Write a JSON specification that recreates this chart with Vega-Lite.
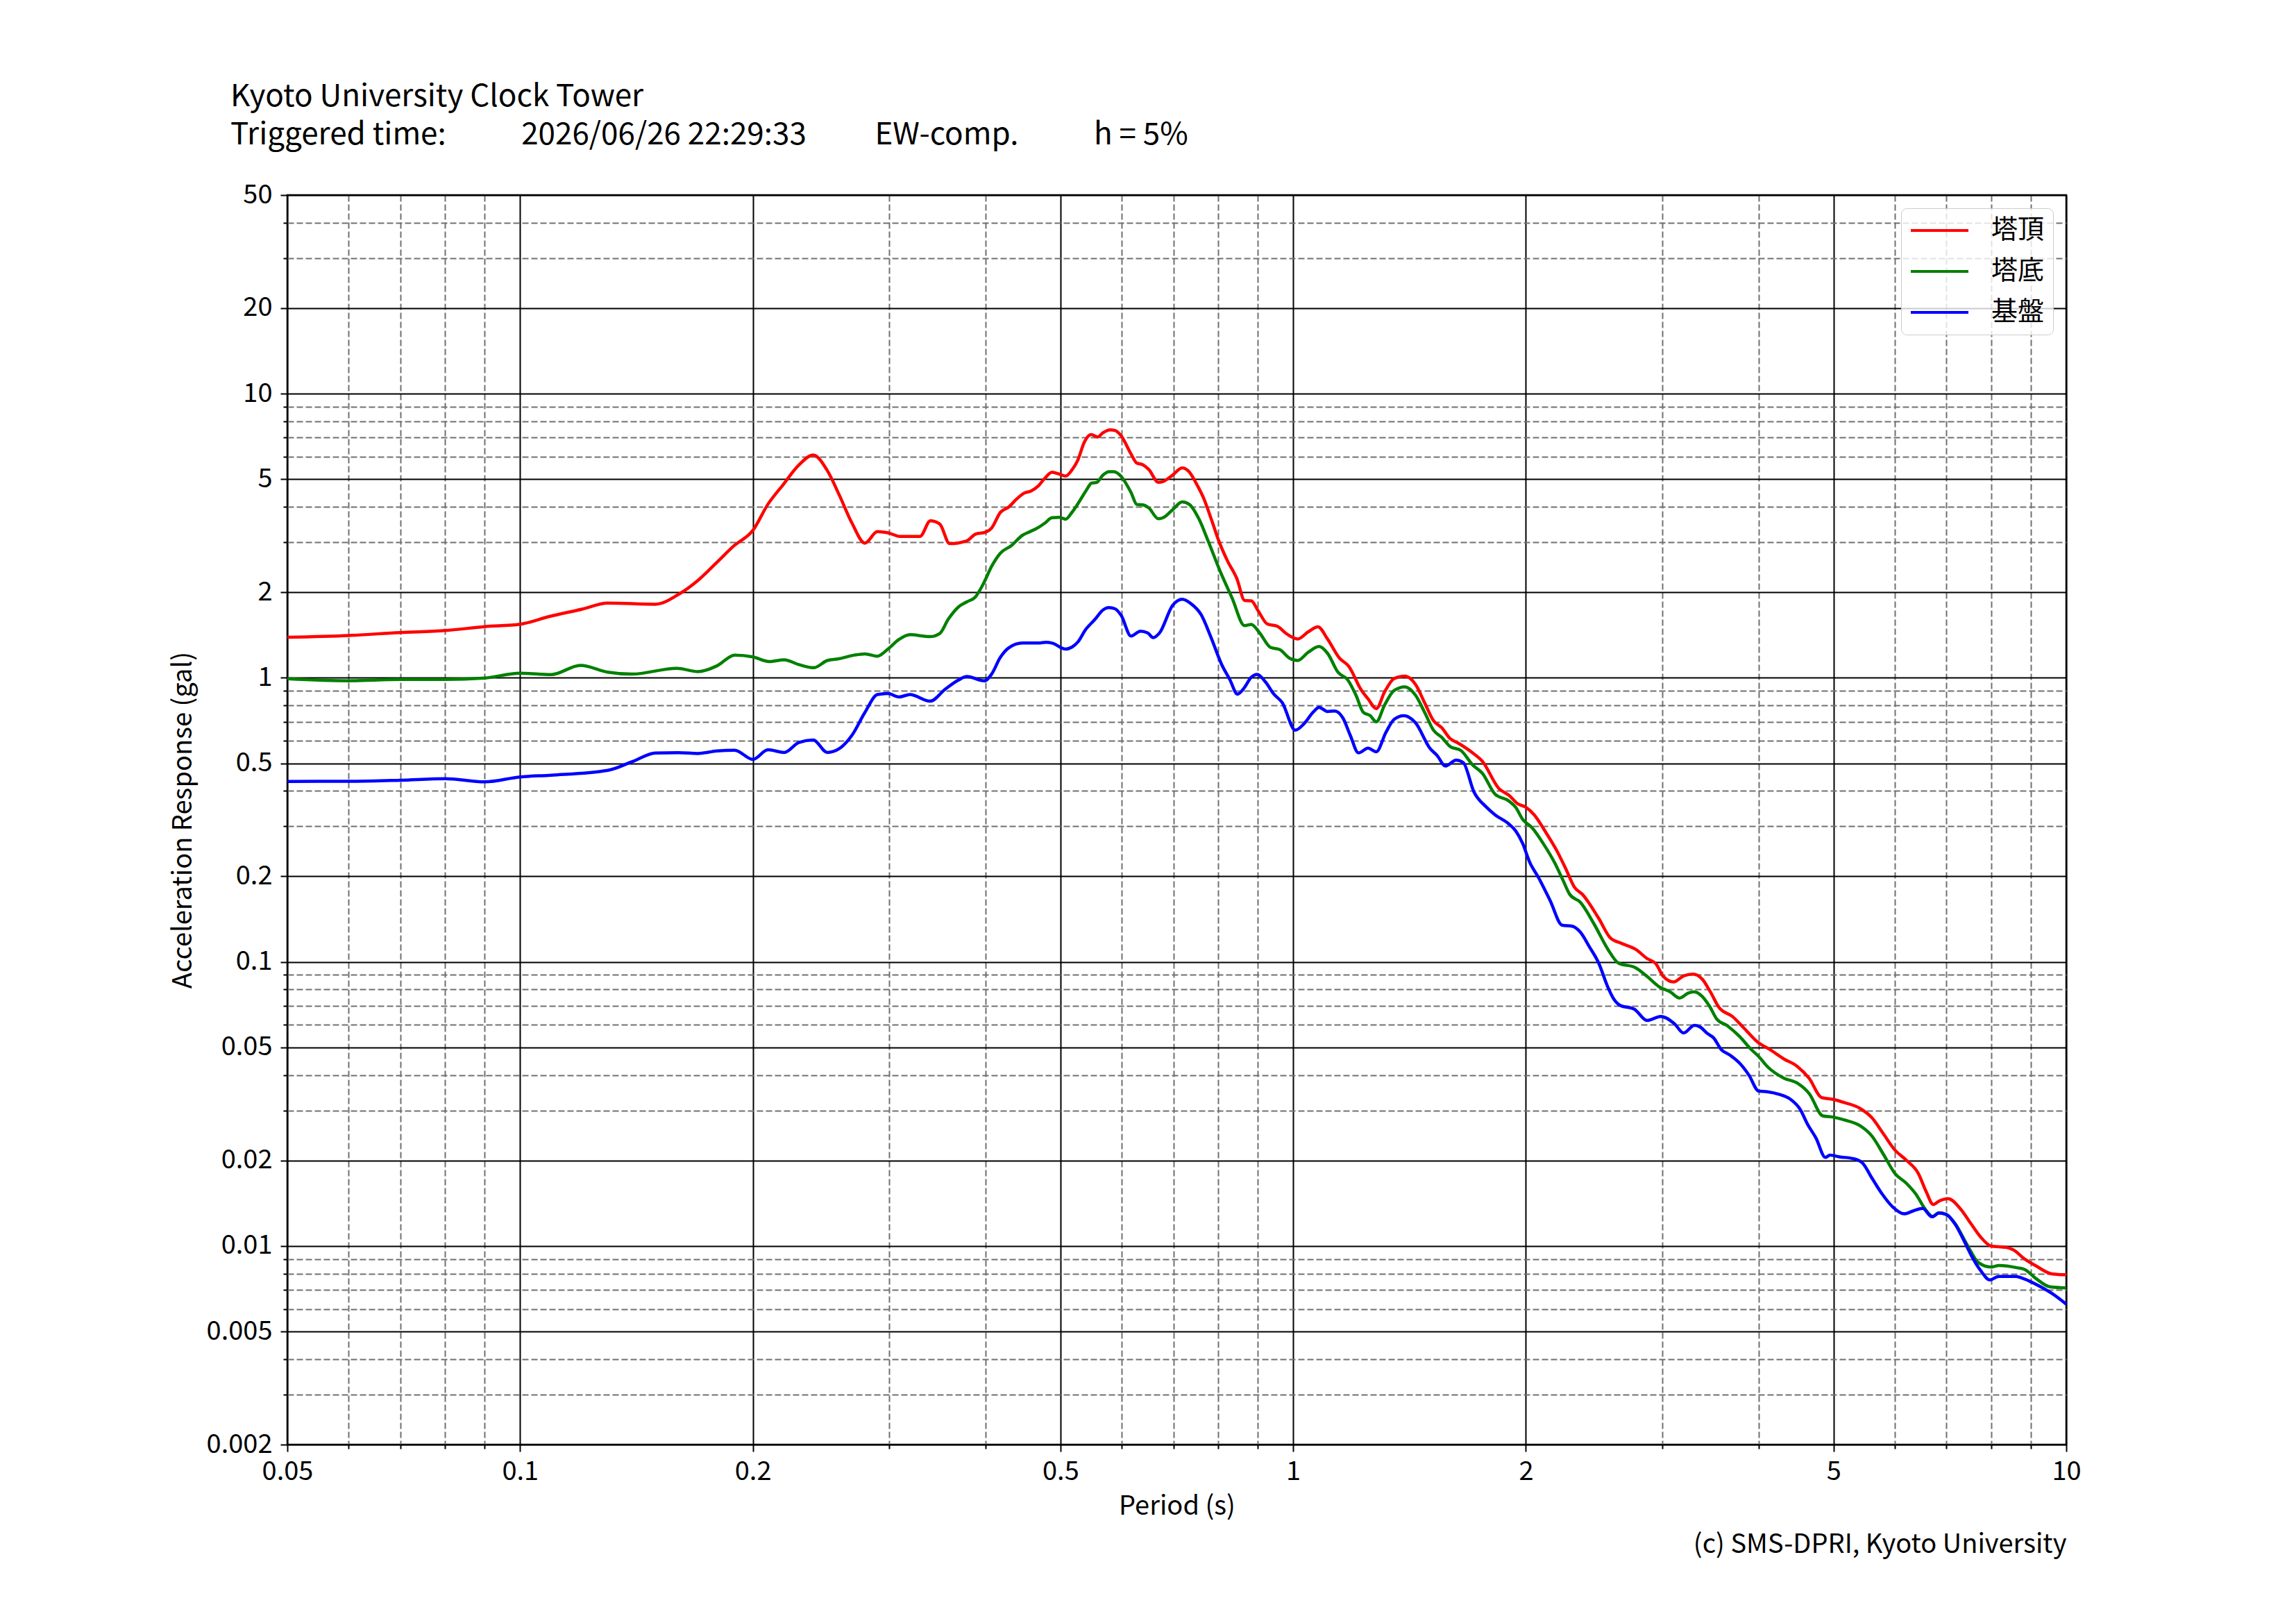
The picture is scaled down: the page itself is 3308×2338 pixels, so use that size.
{
  "$schema": "https://vega.github.io/schema/vega-lite/v6.json",
  "width": 2563,
  "height": 1800,
  "autosize": {"type": "none"},
  "padding": {"left": 414, "top": 281, "right": 331, "bottom": 257},
  "background": "white",
  "title": {
    "text": [
      "Kyoto University Clock Tower",
      "Triggered time:\u00a0\u00a0\u00a0\u00a0\u00a0\u00a0\u00a0\u00a0\u00a0\u00a0\u00a02026/06/26 22:29:33\u00a0\u00a0\u00a0\u00a0\u00a0\u00a0\u00a0\u00a0\u00a0\u00a0EW-comp.\u00a0\u00a0\u00a0\u00a0\u00a0\u00a0\u00a0\u00a0\u00a0\u00a0\u00a0h = 5%"
    ],
    "anchor": "start",
    "frame": "group",
    "dx": -82,
    "offset": 10,
    "baseline": "alphabetic",
    "lineHeight": 55,
    "fontSize": 44,
    "fontWeight": "normal",
    "color": "black"
  },
  "data": {
    "values": [
      {"T": 0.05, "A": 1.389, "s": "塔頂"},
      {"T": 0.06, "A": 1.409, "s": "塔頂"},
      {"T": 0.07, "A": 1.443, "s": "塔頂"},
      {"T": 0.08, "A": 1.466, "s": "塔頂"},
      {"T": 0.09, "A": 1.513, "s": "塔頂"},
      {"T": 0.1, "A": 1.543, "s": "塔頂"},
      {"T": 0.1092, "A": 1.644, "s": "塔頂"},
      {"T": 0.1203, "A": 1.744, "s": "塔頂"},
      {"T": 0.1298, "A": 1.833, "s": "塔頂"},
      {"T": 0.1497, "A": 1.815, "s": "塔頂"},
      {"T": 0.1603, "A": 1.965, "s": "塔頂"},
      {"T": 0.1699, "A": 2.203, "s": "塔頂"},
      {"T": 0.1798, "A": 2.551, "s": "塔頂"},
      {"T": 0.1892, "A": 2.919, "s": "塔頂"},
      {"T": 0.2, "A": 3.3, "s": "塔頂"},
      {"T": 0.2093, "A": 4.087, "s": "塔頂"},
      {"T": 0.2188, "A": 4.773, "s": "塔頂"},
      {"T": 0.2294, "A": 5.607, "s": "塔頂"},
      {"T": 0.2394, "A": 6.083, "s": "塔頂"},
      {"T": 0.2497, "A": 5.362, "s": "塔頂"},
      {"T": 0.259, "A": 4.373, "s": "塔頂"},
      {"T": 0.2688, "A": 3.498, "s": "塔頂"},
      {"T": 0.2793, "A": 2.978, "s": "塔頂"},
      {"T": 0.2899, "A": 3.268, "s": "塔頂"},
      {"T": 0.2991, "A": 3.237, "s": "塔頂"},
      {"T": 0.3103, "A": 3.145, "s": "塔頂"},
      {"T": 0.3291, "A": 3.145, "s": "塔頂"},
      {"T": 0.3394, "A": 3.567, "s": "塔頂"},
      {"T": 0.349, "A": 3.478, "s": "塔頂"},
      {"T": 0.3594, "A": 2.966, "s": "塔頂"},
      {"T": 0.3783, "A": 3.035, "s": "塔頂"},
      {"T": 0.3883, "A": 3.205, "s": "塔頂"},
      {"T": 0.4, "A": 3.255, "s": "塔頂"},
      {"T": 0.4073, "A": 3.365, "s": "塔頂"},
      {"T": 0.418, "A": 3.817, "s": "塔頂"},
      {"T": 0.4288, "A": 3.993, "s": "塔頂"},
      {"T": 0.4385, "A": 4.249, "s": "塔頂"},
      {"T": 0.4483, "A": 4.46, "s": "塔頂"},
      {"T": 0.4582, "A": 4.547, "s": "塔頂"},
      {"T": 0.4685, "A": 4.746, "s": "塔頂"},
      {"T": 0.477, "A": 5.029, "s": "塔頂"},
      {"T": 0.4877, "A": 5.29, "s": "塔頂"},
      {"T": 0.4986, "A": 5.209, "s": "塔頂"},
      {"T": 0.5078, "A": 5.128, "s": "塔頂"},
      {"T": 0.5173, "A": 5.383, "s": "塔頂"},
      {"T": 0.5268, "A": 5.852, "s": "塔頂"},
      {"T": 0.5366, "A": 6.73, "s": "塔頂"},
      {"T": 0.5478, "A": 7.175, "s": "塔頂"},
      {"T": 0.5588, "A": 7.037, "s": "塔頂"},
      {"T": 0.5671, "A": 7.273, "s": "塔頂"},
      {"T": 0.5798, "A": 7.459, "s": "塔頂"},
      {"T": 0.5883, "A": 7.416, "s": "塔頂"},
      {"T": 0.5992, "A": 7.105, "s": "塔頂"},
      {"T": 0.6169, "A": 6.135, "s": "塔頂"},
      {"T": 0.6277, "A": 5.697, "s": "塔頂"},
      {"T": 0.639, "A": 5.62, "s": "塔頂"},
      {"T": 0.6506, "A": 5.406, "s": "塔頂"},
      {"T": 0.6693, "A": 4.877, "s": "塔頂"},
      {"T": 0.679, "A": 4.91, "s": "塔頂"},
      {"T": 0.6985, "A": 5.17, "s": "塔頂"},
      {"T": 0.7186, "A": 5.482, "s": "塔頂"},
      {"T": 0.734, "A": 5.301, "s": "塔頂"},
      {"T": 0.7499, "A": 4.811, "s": "塔頂"},
      {"T": 0.7661, "A": 4.28, "s": "塔頂"},
      {"T": 0.7852, "A": 3.557, "s": "塔頂"},
      {"T": 0.8019, "A": 3.016, "s": "塔頂"},
      {"T": 0.8222, "A": 2.58, "s": "塔頂"},
      {"T": 0.8458, "A": 2.23, "s": "塔頂"},
      {"T": 0.8653, "A": 1.872, "s": "塔頂"},
      {"T": 0.8826, "A": 1.865, "s": "塔頂"},
      {"T": 0.9016, "A": 1.715, "s": "塔頂"},
      {"T": 0.9256, "A": 1.547, "s": "塔頂"},
      {"T": 0.9543, "A": 1.517, "s": "塔頂"},
      {"T": 0.9817, "A": 1.425, "s": "塔頂"},
      {"T": 1.0136, "A": 1.37, "s": "塔頂"},
      {"T": 1.0464, "A": 1.453, "s": "塔頂"},
      {"T": 1.0765, "A": 1.511, "s": "塔頂"},
      {"T": 1.1076, "A": 1.37, "s": "塔頂"},
      {"T": 1.1478, "A": 1.173, "s": "塔頂"},
      {"T": 1.1806, "A": 1.096, "s": "塔頂"},
      {"T": 1.2233, "A": 0.911, "s": "塔頂"},
      {"T": 1.2497, "A": 0.843, "s": "塔頂"},
      {"T": 1.2811, "A": 0.779, "s": "塔頂"},
      {"T": 1.3133, "A": 0.893, "s": "塔頂"},
      {"T": 1.3508, "A": 0.994, "s": "塔頂"},
      {"T": 1.3945, "A": 1.014, "s": "塔頂"},
      {"T": 1.4397, "A": 0.947, "s": "塔頂"},
      {"T": 1.4813, "A": 0.81, "s": "塔頂"},
      {"T": 1.5186, "A": 0.707, "s": "塔頂"},
      {"T": 1.5566, "A": 0.667, "s": "塔頂"},
      {"T": 1.5959, "A": 0.611, "s": "塔頂"},
      {"T": 1.6362, "A": 0.588, "s": "塔頂"},
      {"T": 1.7075, "A": 0.5436, "s": "塔頂"},
      {"T": 1.7571, "A": 0.508, "s": "塔頂"},
      {"T": 1.8449, "A": 0.408, "s": "塔頂"},
      {"T": 1.901, "A": 0.386, "s": "塔頂"},
      {"T": 1.954, "A": 0.3596, "s": "塔頂"},
      {"T": 2.0, "A": 0.3503, "s": "塔頂"},
      {"T": 2.0499, "A": 0.3295, "s": "塔頂"},
      {"T": 2.121, "A": 0.2865, "s": "塔頂"},
      {"T": 2.196, "A": 0.2445, "s": "塔頂"},
      {"T": 2.256, "A": 0.2107, "s": "塔頂"},
      {"T": 2.311, "A": 0.1832, "s": "塔頂"},
      {"T": 2.368, "A": 0.1726, "s": "塔頂"},
      {"T": 2.484, "A": 0.1424, "s": "塔頂"},
      {"T": 2.571, "A": 0.1216, "s": "塔頂"},
      {"T": 2.661, "A": 0.1161, "s": "塔頂"},
      {"T": 2.772, "A": 0.1108, "s": "塔頂"},
      {"T": 2.869, "A": 0.1028, "s": "塔頂"},
      {"T": 2.949, "A": 0.0981, "s": "塔頂"},
      {"T": 3.011, "A": 0.0889, "s": "塔頂"},
      {"T": 3.105, "A": 0.085, "s": "塔頂"},
      {"T": 3.203, "A": 0.0894, "s": "塔頂"},
      {"T": 3.29, "A": 0.0906, "s": "塔頂"},
      {"T": 3.381, "A": 0.087, "s": "塔頂"},
      {"T": 3.464, "A": 0.0785, "s": "塔頂"},
      {"T": 3.554, "A": 0.0692, "s": "塔頂"},
      {"T": 3.701, "A": 0.0642, "s": "塔頂"},
      {"T": 3.831, "A": 0.0584, "s": "塔頂"},
      {"T": 3.992, "A": 0.0521, "s": "塔頂"},
      {"T": 4.134, "A": 0.0492, "s": "塔頂"},
      {"T": 4.31, "A": 0.0456, "s": "塔頂"},
      {"T": 4.491, "A": 0.0428, "s": "塔頂"},
      {"T": 4.65, "A": 0.0389, "s": "塔頂"},
      {"T": 4.826, "A": 0.0333, "s": "塔頂"},
      {"T": 5.0, "A": 0.0328, "s": "塔頂"},
      {"T": 5.157, "A": 0.032, "s": "塔頂"},
      {"T": 5.411, "A": 0.0305, "s": "塔頂"},
      {"T": 5.604, "A": 0.0283, "s": "塔頂"},
      {"T": 5.802, "A": 0.0248, "s": "塔頂"},
      {"T": 6.0, "A": 0.0218, "s": "塔頂"},
      {"T": 6.217, "A": 0.02, "s": "塔頂"},
      {"T": 6.434, "A": 0.01804, "s": "塔頂"},
      {"T": 6.59, "A": 0.01552, "s": "塔頂"},
      {"T": 6.728, "A": 0.014, "s": "塔頂"},
      {"T": 6.845, "A": 0.01439, "s": "塔頂"},
      {"T": 7.035, "A": 0.01467, "s": "塔頂"},
      {"T": 7.282, "A": 0.01361, "s": "塔頂"},
      {"T": 7.537, "A": 0.01193, "s": "塔頂"},
      {"T": 7.748, "A": 0.01076, "s": "塔頂"},
      {"T": 7.993, "A": 0.01, "s": "塔頂"},
      {"T": 8.358, "A": 0.00989, "s": "塔頂"},
      {"T": 8.535, "A": 0.0097, "s": "塔頂"},
      {"T": 8.835, "A": 0.009, "s": "塔頂"},
      {"T": 9.145, "A": 0.0085, "s": "塔頂"},
      {"T": 9.595, "A": 0.00797, "s": "塔頂"},
      {"T": 10, "A": 0.00792, "s": "塔頂"},

      {"T": 0.05, "A": 0.992, "s": "塔底"},
      {"T": 0.06, "A": 0.976, "s": "塔底"},
      {"T": 0.07, "A": 0.986, "s": "塔底"},
      {"T": 0.08, "A": 0.986, "s": "塔底"},
      {"T": 0.09, "A": 0.998, "s": "塔底"},
      {"T": 0.1, "A": 1.038, "s": "塔底"},
      {"T": 0.1097, "A": 1.026, "s": "塔底"},
      {"T": 0.1197, "A": 1.106, "s": "塔底"},
      {"T": 0.1298, "A": 1.047, "s": "塔底"},
      {"T": 0.1395, "A": 1.03, "s": "塔底"},
      {"T": 0.1595, "A": 1.08, "s": "塔底"},
      {"T": 0.1699, "A": 1.051, "s": "塔底"},
      {"T": 0.1798, "A": 1.102, "s": "塔底"},
      {"T": 0.1895, "A": 1.202, "s": "塔底"},
      {"T": 0.2, "A": 1.185, "s": "塔底"},
      {"T": 0.21, "A": 1.141, "s": "塔底"},
      {"T": 0.2196, "A": 1.157, "s": "塔底"},
      {"T": 0.2294, "A": 1.113, "s": "塔底"},
      {"T": 0.2398, "A": 1.085, "s": "塔底"},
      {"T": 0.2497, "A": 1.15, "s": "塔底"},
      {"T": 0.259, "A": 1.168, "s": "塔底"},
      {"T": 0.2707, "A": 1.202, "s": "塔底"},
      {"T": 0.2793, "A": 1.214, "s": "塔底"},
      {"T": 0.2899, "A": 1.191, "s": "塔底"},
      {"T": 0.2991, "A": 1.262, "s": "塔底"},
      {"T": 0.3091, "A": 1.364, "s": "塔底"},
      {"T": 0.3194, "A": 1.418, "s": "塔底"},
      {"T": 0.3389, "A": 1.396, "s": "塔底"},
      {"T": 0.349, "A": 1.432, "s": "塔底"},
      {"T": 0.3581, "A": 1.609, "s": "塔底"},
      {"T": 0.3689, "A": 1.774, "s": "塔底"},
      {"T": 0.3783, "A": 1.85, "s": "塔底"},
      {"T": 0.3883, "A": 1.928, "s": "塔底"},
      {"T": 0.3971, "A": 2.132, "s": "塔底"},
      {"T": 0.4073, "A": 2.466, "s": "塔底"},
      {"T": 0.418, "A": 2.744, "s": "塔底"},
      {"T": 0.432, "A": 2.92, "s": "塔底"},
      {"T": 0.4466, "A": 3.175, "s": "塔底"},
      {"T": 0.4566, "A": 3.268, "s": "塔底"},
      {"T": 0.4685, "A": 3.384, "s": "塔底"},
      {"T": 0.477, "A": 3.498, "s": "塔底"},
      {"T": 0.4877, "A": 3.658, "s": "塔底"},
      {"T": 0.4986, "A": 3.672, "s": "塔底"},
      {"T": 0.5078, "A": 3.616, "s": "塔底"},
      {"T": 0.5173, "A": 3.817, "s": "塔底"},
      {"T": 0.5287, "A": 4.166, "s": "塔底"},
      {"T": 0.5406, "A": 4.591, "s": "塔底"},
      {"T": 0.5488, "A": 4.848, "s": "塔底"},
      {"T": 0.5567, "A": 4.867, "s": "塔底"},
      {"T": 0.5671, "A": 5.159, "s": "塔底"},
      {"T": 0.5777, "A": 5.311, "s": "塔底"},
      {"T": 0.5862, "A": 5.311, "s": "塔底"},
      {"T": 0.5992, "A": 5.109, "s": "塔底"},
      {"T": 0.6169, "A": 4.494, "s": "塔底"},
      {"T": 0.6277, "A": 4.076, "s": "塔底"},
      {"T": 0.639, "A": 4.06, "s": "塔底"},
      {"T": 0.6506, "A": 3.959, "s": "塔底"},
      {"T": 0.6693, "A": 3.627, "s": "塔底"},
      {"T": 0.679, "A": 3.66, "s": "塔底"},
      {"T": 0.6985, "A": 3.906, "s": "塔底"},
      {"T": 0.7186, "A": 4.157, "s": "塔底"},
      {"T": 0.734, "A": 4.076, "s": "塔底"},
      {"T": 0.7551, "A": 3.627, "s": "塔底"},
      {"T": 0.7768, "A": 3.016, "s": "塔底"},
      {"T": 0.8049, "A": 2.364, "s": "塔底"},
      {"T": 0.8337, "A": 1.908, "s": "塔底"},
      {"T": 0.8653, "A": 1.526, "s": "塔底"},
      {"T": 0.8826, "A": 1.541, "s": "塔底"},
      {"T": 0.9049, "A": 1.439, "s": "塔底"},
      {"T": 0.9342, "A": 1.28, "s": "塔底"},
      {"T": 0.961, "A": 1.256, "s": "塔底"},
      {"T": 0.9887, "A": 1.173, "s": "塔底"},
      {"T": 1.0136, "A": 1.15, "s": "塔底"},
      {"T": 1.0464, "A": 1.231, "s": "塔底"},
      {"T": 1.0803, "A": 1.288, "s": "塔底"},
      {"T": 1.1076, "A": 1.22, "s": "塔底"},
      {"T": 1.1435, "A": 1.044, "s": "塔底"},
      {"T": 1.1762, "A": 0.984, "s": "塔底"},
      {"T": 1.2058, "A": 0.868, "s": "塔底"},
      {"T": 1.2318, "A": 0.757, "s": "塔底"},
      {"T": 1.2583, "A": 0.735, "s": "塔底"},
      {"T": 1.2811, "A": 0.7, "s": "塔底"},
      {"T": 1.3133, "A": 0.803, "s": "塔底"},
      {"T": 1.3508, "A": 0.902, "s": "塔底"},
      {"T": 1.3945, "A": 0.929, "s": "塔底"},
      {"T": 1.4397, "A": 0.868, "s": "塔底"},
      {"T": 1.4813, "A": 0.75, "s": "塔底"},
      {"T": 1.5186, "A": 0.654, "s": "塔底"},
      {"T": 1.5566, "A": 0.617, "s": "塔底"},
      {"T": 1.5959, "A": 0.573, "s": "塔底"},
      {"T": 1.6476, "A": 0.555, "s": "塔底"},
      {"T": 1.7075, "A": 0.493, "s": "塔底"},
      {"T": 1.7571, "A": 0.461, "s": "塔底"},
      {"T": 1.824, "A": 0.3896, "s": "塔底"},
      {"T": 1.901, "A": 0.3684, "s": "塔底"},
      {"T": 1.94, "A": 0.3503, "s": "塔底"},
      {"T": 1.981, "A": 0.3174, "s": "塔底"},
      {"T": 2.036, "A": 0.2973, "s": "塔底"},
      {"T": 2.106, "A": 0.261, "s": "塔底"},
      {"T": 2.18, "A": 0.2228, "s": "塔底"},
      {"T": 2.234, "A": 0.1937, "s": "塔底"},
      {"T": 2.28, "A": 0.1726, "s": "塔底"},
      {"T": 2.351, "A": 0.1623, "s": "塔底"},
      {"T": 2.45, "A": 0.136, "s": "塔底"},
      {"T": 2.553, "A": 0.1108, "s": "塔底"},
      {"T": 2.634, "A": 0.0991, "s": "塔底"},
      {"T": 2.772, "A": 0.0954, "s": "塔底"},
      {"T": 2.869, "A": 0.0889, "s": "塔底"},
      {"T": 2.979, "A": 0.0815, "s": "塔底"},
      {"T": 3.073, "A": 0.0785, "s": "塔底"},
      {"T": 3.162, "A": 0.0746, "s": "塔底"},
      {"T": 3.247, "A": 0.0778, "s": "塔底"},
      {"T": 3.304, "A": 0.0785, "s": "塔底"},
      {"T": 3.381, "A": 0.0756, "s": "塔底"},
      {"T": 3.455, "A": 0.0699, "s": "塔底"},
      {"T": 3.53, "A": 0.063, "s": "塔底"},
      {"T": 3.648, "A": 0.0595, "s": "塔底"},
      {"T": 3.78, "A": 0.0546, "s": "塔底"},
      {"T": 3.912, "A": 0.0492, "s": "塔底"},
      {"T": 4.0, "A": 0.0465, "s": "塔底"},
      {"T": 4.106, "A": 0.0428, "s": "塔底"},
      {"T": 4.31, "A": 0.039, "s": "塔底"},
      {"T": 4.491, "A": 0.0374, "s": "塔底"},
      {"T": 4.65, "A": 0.0344, "s": "塔底"},
      {"T": 4.843, "A": 0.0287, "s": "塔底"},
      {"T": 5.0, "A": 0.0284, "s": "塔底"},
      {"T": 5.157, "A": 0.0278, "s": "塔底"},
      {"T": 5.411, "A": 0.0265, "s": "塔底"},
      {"T": 5.604, "A": 0.0244, "s": "塔底"},
      {"T": 5.802, "A": 0.021, "s": "塔底"},
      {"T": 6.0, "A": 0.01804, "s": "塔底"},
      {"T": 6.217, "A": 0.01658, "s": "塔底"},
      {"T": 6.39, "A": 0.01522, "s": "塔底"},
      {"T": 6.57, "A": 0.01348, "s": "塔底"},
      {"T": 6.72, "A": 0.0127, "s": "塔底"},
      {"T": 6.845, "A": 0.0131, "s": "塔底"},
      {"T": 7.0, "A": 0.0129, "s": "塔底"},
      {"T": 7.182, "A": 0.012, "s": "塔底"},
      {"T": 7.385, "A": 0.0105, "s": "塔底"},
      {"T": 7.537, "A": 0.0095, "s": "塔底"},
      {"T": 7.694, "A": 0.00875, "s": "塔底"},
      {"T": 7.993, "A": 0.00843, "s": "塔底"},
      {"T": 8.184, "A": 0.00854, "s": "塔底"},
      {"T": 8.65, "A": 0.00838, "s": "塔底"},
      {"T": 8.835, "A": 0.00827, "s": "塔底"},
      {"T": 9.145, "A": 0.00767, "s": "塔底"},
      {"T": 9.529, "A": 0.00718, "s": "塔底"},
      {"T": 10, "A": 0.00712, "s": "塔底"},

      {"T": 0.05, "A": 0.4318, "s": "基盤"},
      {"T": 0.06, "A": 0.432, "s": "基盤"},
      {"T": 0.07, "A": 0.436, "s": "基盤"},
      {"T": 0.08, "A": 0.4415, "s": "基盤"},
      {"T": 0.09, "A": 0.43, "s": "基盤"},
      {"T": 0.1, "A": 0.4477, "s": "基盤"},
      {"T": 0.1097, "A": 0.454, "s": "基盤"},
      {"T": 0.1298, "A": 0.472, "s": "基盤"},
      {"T": 0.1395, "A": 0.506, "s": "基盤"},
      {"T": 0.1497, "A": 0.5436, "s": "基盤"},
      {"T": 0.1603, "A": 0.545, "s": "基盤"},
      {"T": 0.1699, "A": 0.5414, "s": "基盤"},
      {"T": 0.1798, "A": 0.553, "s": "基盤"},
      {"T": 0.1895, "A": 0.556, "s": "基盤"},
      {"T": 0.2, "A": 0.516, "s": "基盤"},
      {"T": 0.2093, "A": 0.558, "s": "基盤"},
      {"T": 0.2196, "A": 0.546, "s": "基盤"},
      {"T": 0.2294, "A": 0.592, "s": "基盤"},
      {"T": 0.2394, "A": 0.604, "s": "基盤"},
      {"T": 0.2497, "A": 0.546, "s": "基盤"},
      {"T": 0.259, "A": 0.564, "s": "基盤"},
      {"T": 0.2688, "A": 0.628, "s": "基盤"},
      {"T": 0.2793, "A": 0.755, "s": "基盤"},
      {"T": 0.2899, "A": 0.873, "s": "基盤"},
      {"T": 0.2991, "A": 0.88, "s": "基盤"},
      {"T": 0.3091, "A": 0.856, "s": "基盤"},
      {"T": 0.3194, "A": 0.873, "s": "基盤"},
      {"T": 0.3389, "A": 0.827, "s": "基盤"},
      {"T": 0.3555, "A": 0.916, "s": "基盤"},
      {"T": 0.3689, "A": 0.981, "s": "基盤"},
      {"T": 0.3783, "A": 1.01, "s": "基盤"},
      {"T": 0.3984, "A": 0.975, "s": "基盤"},
      {"T": 0.4073, "A": 1.03, "s": "基盤"},
      {"T": 0.418, "A": 1.179, "s": "基盤"},
      {"T": 0.4288, "A": 1.275, "s": "基盤"},
      {"T": 0.4466, "A": 1.325, "s": "基盤"},
      {"T": 0.4685, "A": 1.325, "s": "基盤"},
      {"T": 0.4787, "A": 1.333, "s": "基盤"},
      {"T": 0.4877, "A": 1.325, "s": "基盤"},
      {"T": 0.5078, "A": 1.262, "s": "基盤"},
      {"T": 0.5173, "A": 1.282, "s": "基盤"},
      {"T": 0.5268, "A": 1.338, "s": "基盤"},
      {"T": 0.5386, "A": 1.474, "s": "基盤"},
      {"T": 0.5546, "A": 1.609, "s": "基盤"},
      {"T": 0.5671, "A": 1.729, "s": "基盤"},
      {"T": 0.5777, "A": 1.766, "s": "基盤"},
      {"T": 0.5883, "A": 1.749, "s": "基盤"},
      {"T": 0.5992, "A": 1.657, "s": "基盤"},
      {"T": 0.6169, "A": 1.403, "s": "基盤"},
      {"T": 0.6346, "A": 1.459, "s": "基盤"},
      {"T": 0.6483, "A": 1.439, "s": "基盤"},
      {"T": 0.6591, "A": 1.384, "s": "基盤"},
      {"T": 0.6718, "A": 1.439, "s": "基盤"},
      {"T": 0.6985, "A": 1.8, "s": "基盤"},
      {"T": 0.7186, "A": 1.89, "s": "基盤"},
      {"T": 0.7366, "A": 1.828, "s": "基盤"},
      {"T": 0.7605, "A": 1.665, "s": "基盤"},
      {"T": 0.7821, "A": 1.398, "s": "基盤"},
      {"T": 0.8078, "A": 1.117, "s": "基盤"},
      {"T": 0.8283, "A": 0.984, "s": "基盤"},
      {"T": 0.8471, "A": 0.876, "s": "基盤"},
      {"T": 0.864, "A": 0.92, "s": "基盤"},
      {"T": 0.8826, "A": 1.004, "s": "基盤"},
      {"T": 0.8984, "A": 1.028, "s": "基盤"},
      {"T": 0.921, "A": 0.966, "s": "基盤"},
      {"T": 0.9441, "A": 0.876, "s": "基盤"},
      {"T": 0.9678, "A": 0.818, "s": "基盤"},
      {"T": 1.0064, "A": 0.654, "s": "基盤"},
      {"T": 1.0318, "A": 0.687, "s": "基盤"},
      {"T": 1.0614, "A": 0.757, "s": "基盤"},
      {"T": 1.0803, "A": 0.787, "s": "基盤"},
      {"T": 1.1076, "A": 0.761, "s": "基盤"},
      {"T": 1.1315, "A": 0.764, "s": "基盤"},
      {"T": 1.16, "A": 0.721, "s": "基盤"},
      {"T": 1.1849, "A": 0.629, "s": "基盤"},
      {"T": 1.2146, "A": 0.544, "s": "基盤"},
      {"T": 1.2497, "A": 0.565, "s": "基盤"},
      {"T": 1.2811, "A": 0.549, "s": "基盤"},
      {"T": 1.318, "A": 0.642, "s": "基盤"},
      {"T": 1.3508, "A": 0.714, "s": "基盤"},
      {"T": 1.39, "A": 0.735, "s": "基盤"},
      {"T": 1.4397, "A": 0.694, "s": "基盤"},
      {"T": 1.5025, "A": 0.565, "s": "基盤"},
      {"T": 1.5351, "A": 0.533, "s": "基盤"},
      {"T": 1.5738, "A": 0.489, "s": "基盤"},
      {"T": 1.6246, "A": 0.513, "s": "基盤"},
      {"T": 1.6596, "A": 0.503, "s": "基盤"},
      {"T": 1.7135, "A": 0.396, "s": "基盤"},
      {"T": 1.776, "A": 0.3516, "s": "基盤"},
      {"T": 1.824, "A": 0.3295, "s": "基盤"},
      {"T": 1.901, "A": 0.3058, "s": "基盤"},
      {"T": 1.94, "A": 0.2892, "s": "基盤"},
      {"T": 1.981, "A": 0.261, "s": "基盤"},
      {"T": 2.022, "A": 0.2248, "s": "基盤"},
      {"T": 2.078, "A": 0.1974, "s": "基盤"},
      {"T": 2.151, "A": 0.1638, "s": "基盤"},
      {"T": 2.227, "A": 0.1347, "s": "基盤"},
      {"T": 2.296, "A": 0.1335, "s": "基盤"},
      {"T": 2.351, "A": 0.1274, "s": "基盤"},
      {"T": 2.417, "A": 0.1129, "s": "基盤"},
      {"T": 2.484, "A": 0.0991, "s": "基盤"},
      {"T": 2.553, "A": 0.0815, "s": "基盤"},
      {"T": 2.597, "A": 0.0742, "s": "基盤"},
      {"T": 2.651, "A": 0.0702, "s": "基盤"},
      {"T": 2.762, "A": 0.0682, "s": "基盤"},
      {"T": 2.869, "A": 0.0622, "s": "基盤"},
      {"T": 2.99, "A": 0.0643, "s": "基盤"},
      {"T": 3.113, "A": 0.0606, "s": "基盤"},
      {"T": 3.199, "A": 0.0562, "s": "基盤"},
      {"T": 3.304, "A": 0.0598, "s": "基盤"},
      {"T": 3.361, "A": 0.059, "s": "基盤"},
      {"T": 3.436, "A": 0.0559, "s": "基盤"},
      {"T": 3.497, "A": 0.0541, "s": "基盤"},
      {"T": 3.577, "A": 0.0492, "s": "基盤"},
      {"T": 3.676, "A": 0.0469, "s": "基盤"},
      {"T": 3.78, "A": 0.044, "s": "基盤"},
      {"T": 3.885, "A": 0.04, "s": "基盤"},
      {"T": 4.0, "A": 0.0351, "s": "基盤"},
      {"T": 4.106, "A": 0.0349, "s": "基盤"},
      {"T": 4.25, "A": 0.0342, "s": "基盤"},
      {"T": 4.4, "A": 0.0328, "s": "基盤"},
      {"T": 4.522, "A": 0.0304, "s": "基盤"},
      {"T": 4.632, "A": 0.0267, "s": "基盤"},
      {"T": 4.745, "A": 0.024, "s": "基盤"},
      {"T": 4.88, "A": 0.0205, "s": "基盤"},
      {"T": 4.948, "A": 0.0209, "s": "基盤"},
      {"T": 5.087, "A": 0.0206, "s": "基盤"},
      {"T": 5.302, "A": 0.0203, "s": "基盤"},
      {"T": 5.45, "A": 0.0196, "s": "基盤"},
      {"T": 5.604, "A": 0.01737, "s": "基盤"},
      {"T": 5.781, "A": 0.01522, "s": "基盤"},
      {"T": 5.963, "A": 0.01373, "s": "基盤"},
      {"T": 6.17, "A": 0.01298, "s": "基盤"},
      {"T": 6.343, "A": 0.0133, "s": "基盤"},
      {"T": 6.52, "A": 0.01356, "s": "基盤"},
      {"T": 6.702, "A": 0.01267, "s": "基盤"},
      {"T": 6.845, "A": 0.01306, "s": "基盤"},
      {"T": 7.0, "A": 0.01291, "s": "基盤"},
      {"T": 7.182, "A": 0.01193, "s": "基盤"},
      {"T": 7.385, "A": 0.01036, "s": "基盤"},
      {"T": 7.537, "A": 0.00926, "s": "基盤"},
      {"T": 7.748, "A": 0.0082, "s": "基盤"},
      {"T": 7.964, "A": 0.0076, "s": "基盤"},
      {"T": 8.184, "A": 0.00782, "s": "基盤"},
      {"T": 8.59, "A": 0.00782, "s": "基盤"},
      {"T": 8.955, "A": 0.00753, "s": "基盤"},
      {"T": 9.269, "A": 0.00718, "s": "基盤"},
      {"T": 9.595, "A": 0.00679, "s": "基盤"},
      {"T": 10, "A": 0.00624, "s": "基盤"}
    ]
  },
  "encoding": {
    "y": {
      "field": "A",
      "type": "quantitative",
      "scale": {"type": "log", "domain": [0.002, 50], "nice": false},
      "axis": {
        "title": "Acceleration Response (gal)",
        "values": [0.002, 0.003, 0.004, 0.005, 0.006, 0.007, 0.008, 0.009, 0.01, 0.02, 0.03, 0.04, 0.05, 0.06, 0.07, 0.08, 0.09, 0.1, 0.2, 0.3, 0.4, 0.5, 0.6, 0.7, 0.8, 0.9, 1, 2, 3, 4, 5, 6, 7, 8, 9, 10, 20, 30, 40, 50],
        "labelExpr": "indexof([0.002, 0.005, 0.01, 0.02, 0.05, 0.1, 0.2, 0.5, 1, 2, 5, 10, 20, 50], datum.value) >= 0 ? format(datum.value, '~g') : ''",
        "gridDash": {"condition": {"test": "indexof([0.002, 0.005, 0.01, 0.02, 0.05, 0.1, 0.2, 0.5, 1, 2, 5, 10, 20, 50], datum.value) < 0", "value": [9, 4]}, "value": []},
        "gridColor": {"condition": {"test": "indexof([0.002, 0.005, 0.01, 0.02, 0.05, 0.1, 0.2, 0.5, 1, 2, 5, 10, 20, 50], datum.value) < 0", "value": "#707070"}, "value": "black"},
        "tickSize": {"condition": {"test": "indexof([0.002, 0.005, 0.01, 0.02, 0.05, 0.1, 0.2, 0.5, 1, 2, 5, 10, 20, 50], datum.value) < 0", "value": 6}, "value": 10},
        "labelPadding": 12,
        "titlePadding": 14
      }
    }
  },
  "layer": [
    {
      "mark": {"type": "line", "strokeWidth": 4.5, "interpolate": "monotone"},
      "encoding": {
        "x": {
          "field": "T",
          "type": "quantitative",
          "scale": {"type": "log", "domain": [0.05, 10], "nice": false},
          "axis": {
            "title": "Period (s)",
            "orient": "bottom",
            "values": [0.05, 0.06, 0.07, 0.08, 0.09, 0.1, 0.2, 0.3, 0.4, 0.5, 0.6, 0.7, 0.8, 0.9, 1, 2, 3, 4, 5, 6, 7, 8, 9, 10],
            "labelExpr": "indexof([0.05, 0.1, 0.2, 0.5, 1, 2, 5, 10], datum.value) >= 0 ? format(datum.value, '~g') : ''",
            "gridDash": {"condition": {"test": "indexof([0.05, 0.1, 0.2, 0.5, 1, 2, 5, 10], datum.value) < 0", "value": [9, 4]}, "value": []},
            "gridColor": {"condition": {"test": "indexof([0.05, 0.1, 0.2, 0.5, 1, 2, 5, 10], datum.value) < 0", "value": "#707070"}, "value": "black"},
            "tickSize": {"condition": {"test": "indexof([0.05, 0.1, 0.2, 0.5, 1, 2, 5, 10], datum.value) < 0", "value": 6}, "value": 10},
            "labelPadding": 10,
            "titlePadding": 12
          }
        },
        "color": {
          "field": "s",
          "type": "nominal",
          "scale": {"domain": ["塔頂", "塔底", "基盤"], "range": ["#ff0000", "#008000", "#0000ff"]},
          "legend": {
            "title": null,
            "orient": "top-right",
            "offset": 19,
            "padding": 12,
            "rowPadding": 19,
            "clipHeight": 40,
            "symbolType": "stroke",
            "symbolSize": 6889,
            "symbolStrokeWidth": 4,
            "labelFontSize": 38,
            "labelOffset": 31,
            "cornerRadius": 8,
            "strokeColor": "#cccccc",
            "fillColor": "rgba(255,255,255,0.8)"
          }
        }
      }
    },
    {
      "mark": {"type": "point", "opacity": 0},
      "encoding": {
        "x": {
          "field": "T",
          "type": "quantitative",
          "axis": {
            "title": "(c) SMS-DPRI, Kyoto University",
            "orient": "bottom",
            "labels": false,
            "ticks": false,
            "grid": false,
            "domain": false,
            "titleAnchor": "end",
            "titleAlign": "right",
            "titlePadding": 125
          }
        }
      }
    }
  ],
  "resolve": {"axis": {"x": "independent"}},
  "config": {
    "font": "Noto Sans CJK JP",
    "view": {"stroke": "black", "strokeWidth": 2.5},
    "axis": {
      "labelFont": "Noto Sans CJK JP",
      "titleFont": "Noto Sans CJK JP",
      "labelFontSize": 38,
      "titleFontSize": 38,
      "titleFontWeight": "normal",
      "labelColor": "black",
      "titleColor": "black",
      "tickColor": "black",
      "tickWidth": 2,
      "gridWidth": 2,
      "domain": false,
      "labelFlush": false,
      "labelOverlap": false,
      "labelBound": false
    },
    "legend": {
      "labelFont": "Noto Sans CJK JP",
      "labelColor": "black"
    }
  }
}
